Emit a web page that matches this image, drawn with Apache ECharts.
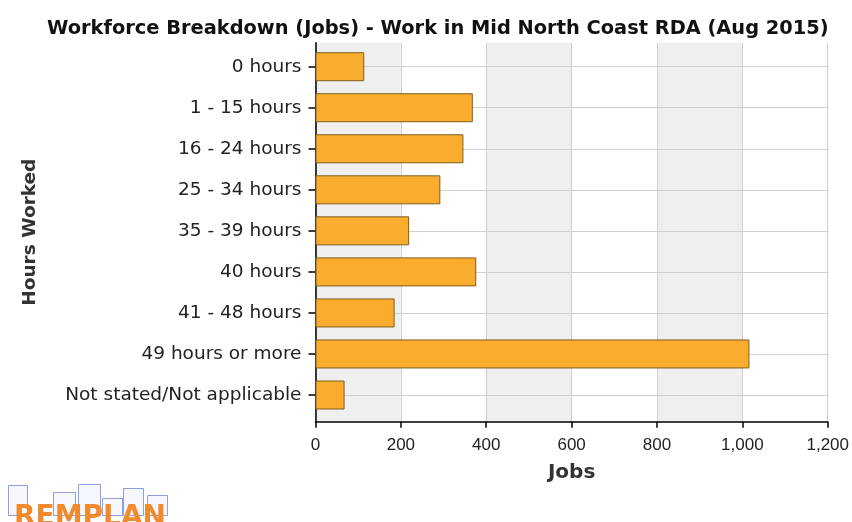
<!DOCTYPE html>
<html><head><meta charset="utf-8">
<script src="https://cdn.jsdelivr.net/npm/echarts@6/dist/echarts.min.js"></script>
<style>html,body{margin:0;padding:0;background:#fff}#c{width:852px;height:522px}</style>
</head><body><div id="c"></div>
<script>
const categories = ["0 hours","1 - 15 hours","16 - 24 hours","25 - 34 hours","35 - 39 hours","40 hours","41 - 48 hours","49 hours or more","Not stated/Not applicable"];
const jobs = [114, 368, 346, 292, 219, 376, 185, 1015, 68];
const xTicks = {min: 0, max: 1200, interval: 200};

const chart = echarts.init(document.getElementById('c'));
const L = 315.5, R = 852 - 828.5;
const DJ = '"DejaVu Sans", Verdana, sans-serif';
chart.setOption({
  animation: false,
  title: {
    text: 'Workforce Breakdown (Jobs) - Work in Mid North Coast RDA (Aug 2015)',
    left: 42, top: 14,
    textStyle: {fontFamily: DJ, fontWeight: 'bold', fontSize: 19.4, color: '#111'}
  },
  grid: [
    {left: L, right: R, top: 42.7, bottom: 522 - 421.7},
    {left: L, right: R, top: 66.7, bottom: 522 - 395}
  ],
  xAxis: [
    {gridIndex: 0, type: 'value', min: xTicks.min, max: xTicks.max, interval: xTicks.interval,
     axisLine: {show: true, lineStyle: {color: '#000', width: 1.5}},
     axisTick: {show: true, length: 6, lineStyle: {color: '#000', width: 1.5}},
     axisLabel: {color: '#222', fontSize: 17, margin: 15, fontFamily: '"Liberation Sans", Arial, sans-serif'},
     splitLine: {show: true, lineStyle: {color: '#cfcfcf'}},
     splitArea: {show: true, areaStyle: {color: ['#efefef', '#ffffff']}},
     name: 'Jobs', nameLocation: 'middle', nameGap: 41,
     nameTextStyle: {fontWeight: 'bold', fontSize: 20, color: '#333', fontFamily: DJ}},
    {gridIndex: 1, type: 'value', min: xTicks.min, max: xTicks.max, interval: xTicks.interval, show: false}
  ],
  yAxis: [
    {gridIndex: 0, type: 'value', min: 0, max: 1, z: 4,
     axisLine: {show: true, lineStyle: {color: '#000', width: 1.5}},
     axisTick: {show: false}, axisLabel: {show: false}, splitLine: {show: false},
     name: 'Hours Worked', nameLocation: 'middle', nameGap: 276, nameRotate: 90,
     nameTextStyle: {fontWeight: 'bold', fontSize: 18.5, color: '#333', fontFamily: DJ}},
    {gridIndex: 1, type: 'category', data: categories, inverse: true, boundaryGap: false, z: 3,
     axisLine: {show: false},
     axisTick: {show: true, length: 7, lineStyle: {color: '#000', width: 1.5}},
     axisLabel: {color: '#222', fontSize: 18.5, margin: 14, fontFamily: DJ},
     splitLine: {show: true, lineStyle: {color: '#d0d0d0'}}}
  ],
  series: [{
    type: 'bar', xAxisIndex: 1, yAxisIndex: 1, data: jobs, barWidth: 29, clip: false, z: 5,
    itemStyle: {color: '#FAAC2E', borderColor: '#7f5f1c', borderWidth: 1}
  }],
  graphic: [
    {type: 'rect', left: 8, top: 485, shape: {width: 19, height: 30}, style: {fill: '#f6f7ff', stroke: '#8f9ee0', lineWidth: 1}},
    {type: 'rect', left: 53, top: 492, shape: {width: 22, height: 23}, style: {fill: '#f6f7ff', stroke: '#8f9ee0', lineWidth: 1}},
    {type: 'rect', left: 78, top: 484, shape: {width: 22, height: 31}, style: {fill: '#f6f7ff', stroke: '#8f9ee0', lineWidth: 1}},
    {type: 'rect', left: 102, top: 498, shape: {width: 20, height: 17}, style: {fill: '#f6f7ff', stroke: '#8f9ee0', lineWidth: 1}},
    {type: 'rect', left: 123, top: 488, shape: {width: 20, height: 27}, style: {fill: '#f6f7ff', stroke: '#8f9ee0', lineWidth: 1}},
    {type: 'rect', left: 147, top: 495, shape: {width: 20, height: 20}, style: {fill: '#f6f7ff', stroke: '#8f9ee0', lineWidth: 1}},
    {type: 'text', left: 14, top: 504, style: {text: 'REMPLAN', fill: '#F08A2C', font: 'bold 28px "DejaVu Sans", sans-serif'}}
  ]
});
</script></body></html>
